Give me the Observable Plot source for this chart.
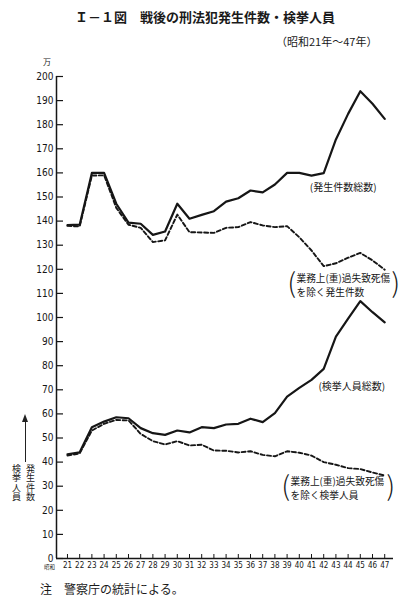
<!DOCTYPE html>
<html>
<head>
<meta charset="utf-8">
<script src="https://cdn.jsdelivr.net/npm/d3@7"></script>
<script src="https://cdn.jsdelivr.net/npm/@observablehq/plot@0.6"></script>
<style>
  html, body { margin: 0; padding: 0; background: #fff; }
  #wrap { position: relative; width: 419px; height: 600px; overflow: hidden; font-family: "Noto Sans CJK JP", "Noto Sans", sans-serif; color: #1a1a1a; background: #fff; }
  .abs { position: absolute; white-space: nowrap; line-height: 1; }
  #title { left: 75px; top: 10px; font-size: 13px; font-weight: 700; }
  #subtitle { left: 276px; top: 36px; font-size: 11px; }
  #unit { left: 43px; top: 58px; font-size: 8px; }
  #note { left: 40px; top: 583px; font-size: 12px; }
  #era { left: 44px; top: 565px; font-size: 5.5px; }
  #vlabel { left: 9px; top: 464px; font-size: 9px; line-height: 14px; writing-mode: vertical-rl; letter-spacing: 0.5px; white-space: pre; }
  #arrowline { left: 24.5px; top: 420px; width: 1px; height: 42px; background: #222; }
  #arrowhead { left: 22px; top: 414px; width: 0; height: 0; border-left: 3px solid transparent; border-right: 3px solid transparent; border-bottom: 8px solid #222; }
  #chart { position: absolute; left: 0; top: 50px; }
</style>
</head>
<body>
<div id="wrap">
  <div id="chart"></div>
  <div id="title" class="abs">Ｉ－１図　戦後の刑法犯発生件数・検挙人員</div>
  <div id="subtitle" class="abs">（昭和21年～47年）</div>
  <div id="unit" class="abs">万</div>
  <div id="arrowhead" class="abs"></div>
  <div id="arrowline" class="abs"></div>
  <div id="vlabel" class="abs">発生件数
検挙人員</div>
  <div id="era" class="abs">昭和</div>
  <div id="note" class="abs">注　警察庁の統計による。</div>
</div>
<script>
// Years (昭和)
const years = [21,22,23,24,25,26,27,28,29,30,31,32,33,34,35,36,37,38,39,40,41,42,43,44,45,46,47];
// 発生件数総数 (万)
const occTotal = [138.3,138.5,160.0,160.0,147.2,139.4,138.9,134.3,135.7,147.2,141.0,142.6,144.1,148.1,149.5,152.7,151.9,155.2,160.0,160.0,158.9,159.9,173.9,184.5,193.9,188.7,182.4];
// 業務上(重)過失致死傷を除く発生件数 (万)
const occExcl = [138.0,137.8,158.9,159.0,145.5,138.5,137.2,131.3,132.0,142.7,135.4,135.3,135.1,137.2,137.5,139.6,138.2,137.5,137.9,133.3,127.8,121.3,122.5,124.8,126.8,123.7,119.8];
// 検挙人員総数 (万)
const arrTotal = [43.2,44.1,54.5,56.8,58.6,58.2,54.1,52.0,51.3,53.1,52.3,54.5,54.1,55.6,55.9,58.0,56.6,60.3,67.2,70.8,74.1,78.7,92.1,99.5,106.8,102.2,98.0];
// 業務上(重)過失致死傷を除く検挙人員 (万)
const arrExcl = [42.7,43.6,53.1,55.9,57.5,57.3,51.7,48.7,47.3,48.7,46.9,47.2,44.8,44.7,44.0,44.5,43.0,42.4,44.5,43.9,42.7,40.0,38.9,37.5,37.1,35.7,34.4];
// Y tick labels
const yTicks = [0,10,20,30,40,50,60,70,80,90,100,110,120,130,140,150,160,170,180,190,200];
// Annotation texts
const labOccTotal = "(発生件数総数)";
const labOccExcl = "業務上(重)過失致死傷\nを除く発生件数";
const labArrTotal = "(検挙人員総数)";
const labArrExcl = "業務上(重)過失致死傷\nを除く検挙人員";

const xDomain = [20.1, 47.72];
const ink = "#161616";
const numFont = "'Liberation Sans Narrow', 'DejaVu Sans Condensed', 'Liberation Sans', sans-serif";
const jpFont = "'Noto Sans CJK JP', 'Noto Sans', sans-serif";

function bracketLabel(text, x, y, width) {
  return [
    Plot.text([text], {x, y, text: d => d, textAnchor: "start", lineAnchor: "middle", lineHeight: 1.45, fontSize: 9.7, fontFamily: jpFont, fill: ink}),
    Plot.text(["("], {x, y, text: d => d, textAnchor: "end", lineAnchor: "middle", dx: -0.5, dy: -1, fontSize: 27, fontWeight: 300, fontFamily: jpFont, fill: ink}),
    Plot.text([")"], {x, y, text: d => d, textAnchor: "start", lineAnchor: "middle", dx: width, dy: -1, fontSize: 27, fontWeight: 300, fontFamily: jpFont, fill: ink})
  ];
}

const chart = Plot.plot({
  width: 419,
  height: 530,
  marginLeft: 56,
  marginRight: 26,
  marginTop: 26,
  marginBottom: 22,
  x: {domain: xDomain},
  y: {domain: [0, 200]},
  style: {background: "transparent", color: ink, fontFamily: numFont},
  marks: [
    Plot.ruleX([xDomain[0]], {stroke: ink, strokeWidth: 1.5}),
    Plot.ruleY([0], {stroke: ink, strokeWidth: 1.5}),
    Plot.axisY(yTicks, {tickSize: 7, dx: 7, tickFormat: () => "", label: null, stroke: ink, strokeWidth: 1.2}),
    Plot.axisY(yTicks, {tickSize: 0, tickPadding: 3, label: null, fontSize: 10, fill: ink}),
    Plot.axisX(years, {tickSize: 4, dy: -4, tickFormat: () => "", label: null, stroke: ink}),
    Plot.axisX(years, {tickSize: 0, tickPadding: 4, label: null, fontSize: 8, letterSpacing: -0.3, fill: ink}),
    Plot.lineY(occTotal, {x: years, stroke: ink, strokeWidth: 2.2}),
    Plot.lineY(occExcl, {x: years, stroke: ink, strokeWidth: 1.9, strokeDasharray: "4,2.5"}),
    Plot.lineY(arrTotal, {x: years, stroke: ink, strokeWidth: 2.2}),
    Plot.lineY(arrExcl, {x: years, stroke: ink, strokeWidth: 1.9, strokeDasharray: "4,2.5"}),
    Plot.text([labOccTotal], {x: 43.6, y: 153.9, text: d => d, fontSize: 10, fontFamily: jpFont, fill: ink}),
    Plot.text([labArrTotal], {x: 44.3, y: 71.4, text: d => d, fontSize: 10, fontFamily: jpFont, fill: ink}),
    ...bracketLabel(labOccExcl, 39.77, 113.5, 95),
    ...bracketLabel(labArrExcl, 39.28, 29.3, 96)
  ]
});
document.getElementById("chart").appendChild(chart);
</script>
</body>
</html>
